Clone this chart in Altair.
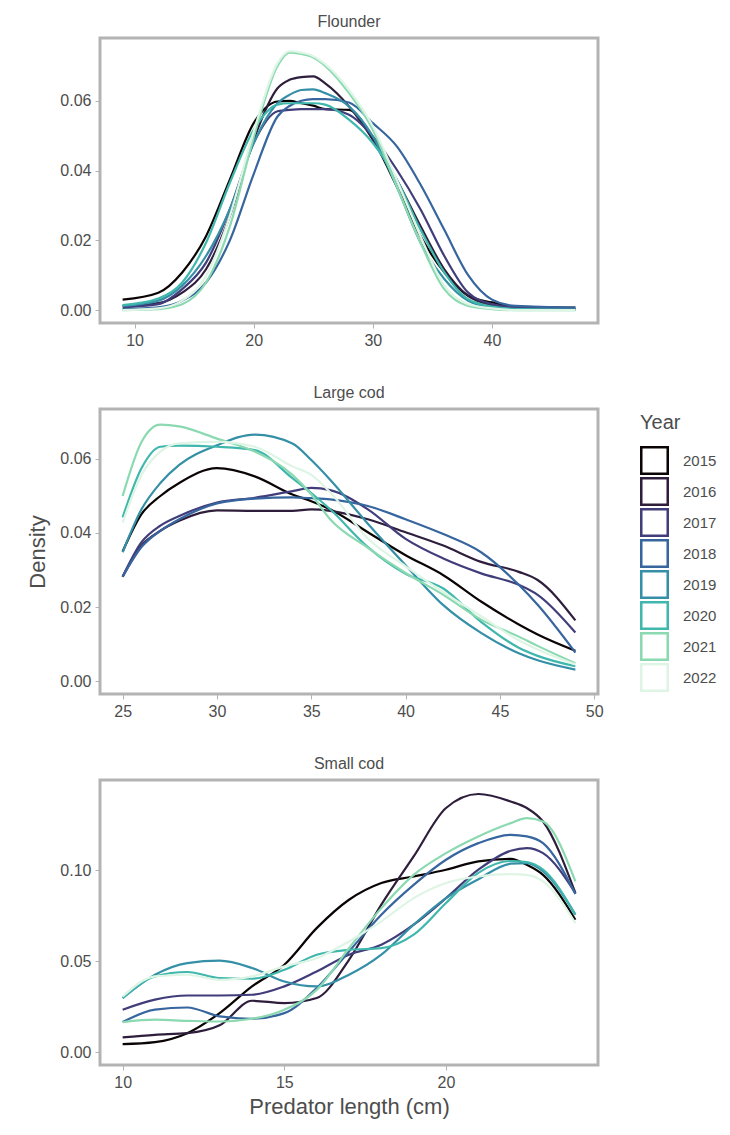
import altair as alt
import pandas as pd

YEARS = ["2015", "2016", "2017", "2018", "2019", "2020", "2021", "2022"]
COLORS = ["#0B0405", "#2E1E3C", "#413D7B", "#37659E", "#348FA7", "#40B7AD", "#8AD9B1", "#DEF5E5"]

FLOUNDER_X = [9, 12, 14, 16, 18, 20, 22, 23, 24, 25, 26, 28, 30, 32, 34, 36, 38, 40, 42, 47]
FLOUNDER = {
    "2015": [0.0030, 0.0050, 0.0108, 0.0212, 0.0374, 0.0536, 0.0598, 0.0600, 0.0593, 0.0586, 0.0576, 0.0574, 0.0489, 0.0355, 0.0212, 0.0108, 0.0041, 0.0022, 0.0010, 0.0007],
    "2016": [0.0012, 0.0020, 0.0050, 0.0117, 0.0270, 0.0489, 0.0636, 0.0660, 0.0668, 0.0670, 0.0650, 0.0584, 0.0489, 0.0374, 0.0241, 0.0117, 0.0041, 0.0014, 0.0005, 0.0003],
    "2017": [0.0008, 0.0017, 0.0060, 0.0136, 0.0289, 0.0479, 0.0570, 0.0574, 0.0576, 0.0576, 0.0576, 0.0560, 0.0498, 0.0403, 0.0289, 0.0155, 0.0050, 0.0017, 0.0007, 0.0003],
    "2018": [0.0003, 0.0008, 0.0027, 0.0079, 0.0200, 0.0390, 0.0555, 0.0585, 0.0600, 0.0605, 0.0605, 0.0595, 0.0536, 0.0470, 0.0360, 0.0230, 0.0100, 0.0030, 0.0012, 0.0007],
    "2019": [0.0012, 0.0027, 0.0070, 0.0155, 0.0289, 0.0479, 0.0593, 0.0617, 0.0631, 0.0633, 0.0622, 0.0584, 0.0498, 0.0355, 0.0194, 0.0089, 0.0027, 0.0008, 0.0003, 0.0001],
    "2020": [0.0014, 0.0033, 0.0079, 0.0193, 0.0365, 0.0517, 0.0589, 0.0593, 0.0593, 0.0593, 0.0589, 0.0546, 0.0479, 0.0374, 0.0231, 0.0108, 0.0031, 0.0010, 0.0003, 0.0001],
    "2021": [0.0000, 0.0003, 0.0017, 0.0079, 0.0240, 0.0495, 0.0700, 0.0738, 0.0734, 0.0724, 0.0700, 0.0622, 0.0517, 0.0355, 0.0193, 0.0060, 0.0012, 0.0003, 0.0000, 0.0000],
    "2022": [0.0000, 0.0005, 0.0027, 0.0098, 0.0270, 0.0512, 0.0708, 0.0742, 0.0738, 0.0728, 0.0705, 0.0631, 0.0527, 0.0374, 0.0212, 0.0070, 0.0017, 0.0005, 0.0000, 0.0000],
}

LARGE_X = [25, 26, 27, 28, 30, 32, 34, 35, 36, 38, 40, 42, 44, 46, 47, 49]
LARGE = {
    "2015": [0.0350, 0.0451, 0.0500, 0.0535, 0.0575, 0.0553, 0.0504, 0.0486, 0.0464, 0.0402, 0.0340, 0.0286, 0.0215, 0.0153, 0.0126, 0.0082],
    "2016": [0.0282, 0.0366, 0.0406, 0.0433, 0.0461, 0.0460, 0.0460, 0.0464, 0.0460, 0.0437, 0.0402, 0.0366, 0.0322, 0.0295, 0.0273, 0.0164],
    "2017": [0.0282, 0.0375, 0.0420, 0.0446, 0.0482, 0.0495, 0.0513, 0.0522, 0.0516, 0.0464, 0.0384, 0.0331, 0.0291, 0.0260, 0.0233, 0.0131],
    "2018": [0.0282, 0.0362, 0.0406, 0.0437, 0.0480, 0.0493, 0.0496, 0.0494, 0.0491, 0.0473, 0.0437, 0.0397, 0.0348, 0.0260, 0.0206, 0.0077],
    "2019": [0.0348, 0.0464, 0.0535, 0.0584, 0.0637, 0.0666, 0.0642, 0.0597, 0.0544, 0.0425, 0.0313, 0.0205, 0.0130, 0.0075, 0.0056, 0.0031],
    "2020": [0.0442, 0.0575, 0.0633, 0.0636, 0.0633, 0.0624, 0.0548, 0.0508, 0.0464, 0.0362, 0.0290, 0.0250, 0.0160, 0.0090, 0.0068, 0.0040],
    "2021": [0.0500, 0.0646, 0.0693, 0.0688, 0.0655, 0.0620, 0.0557, 0.0504, 0.0437, 0.0360, 0.0292, 0.0233, 0.0166, 0.0120, 0.0095, 0.0048],
    "2022": [0.0428, 0.0557, 0.0620, 0.0642, 0.0646, 0.0633, 0.0580, 0.0557, 0.0510, 0.0385, 0.0310, 0.0240, 0.0175, 0.0110, 0.0085, 0.0045],
}

SMALL_X = [10, 11, 12, 13, 14, 15, 16, 17, 18, 19, 20, 21, 22, 22.5, 23, 24]
SMALL = {
    "2015": [0.0044, 0.0055, 0.0104, 0.0214, 0.0361, 0.0480, 0.0681, 0.0837, 0.0929, 0.0965, 0.1002, 0.1048, 0.1062, 0.1029, 0.0974, 0.0727],
    "2016": [0.0081, 0.0095, 0.0104, 0.0147, 0.0282, 0.0269, 0.0297, 0.0507, 0.0810, 0.1075, 0.1341, 0.1418, 0.1377, 0.1341, 0.1267, 0.0874],
    "2017": [0.0233, 0.0288, 0.0311, 0.0311, 0.0315, 0.0361, 0.0443, 0.0535, 0.0590, 0.0700, 0.0846, 0.1002, 0.1106, 0.1121, 0.1093, 0.0874],
    "2018": [0.0165, 0.0233, 0.0245, 0.0196, 0.0183, 0.0214, 0.0352, 0.0553, 0.0755, 0.0919, 0.1057, 0.1148, 0.1194, 0.1185, 0.1148, 0.0868],
    "2019": [0.0297, 0.0425, 0.0489, 0.0502, 0.0462, 0.0388, 0.0361, 0.0425, 0.0535, 0.0700, 0.0846, 0.0950, 0.1035, 0.1038, 0.0993, 0.0755],
    "2020": [0.0297, 0.0416, 0.0440, 0.0407, 0.0403, 0.0452, 0.0535, 0.0562, 0.0571, 0.0645, 0.0819, 0.0985, 0.1050, 0.1044, 0.1002, 0.0755],
    "2021": [0.0165, 0.0178, 0.0172, 0.0168, 0.0183, 0.0233, 0.0342, 0.0571, 0.0791, 0.0974, 0.1093, 0.1185, 0.1258, 0.1286, 0.1267, 0.0938],
    "2022": [0.0306, 0.0416, 0.0425, 0.0397, 0.0416, 0.0471, 0.0516, 0.0608, 0.0718, 0.0846, 0.0929, 0.0965, 0.0978, 0.0974, 0.0938, 0.0709],
}

FONT = "Liberation Sans, Arial, sans-serif"
TXT = "#4D4D4D"
GRAY = "#B3B3B3"

LEGEND = alt.Legend(
    title="Year", titleFontSize=20, titleColor=TXT, titleFont=FONT,
    titleFontWeight="normal", labelFontSize=15, labelColor=TXT, labelFont=FONT,
    symbolType="square", symbolSize=700, symbolFillColor="white",
    symbolStrokeWidth=2.5, rowPadding=0, clipHeight=31, labelOffset=14,
    orient="none", legendX=540, legendY=375, titlePadding=12,
)


def long_df(xs, series):
    rows = []
    for yr in YEARS:
        for i, (x, v) in enumerate(zip(xs, series[yr])):
            rows.append({"x": x, "density": v, "Year": yr, "order": i})
    return pd.DataFrame(rows)


def panel(title, xs, series, xdom, xvals, ydom, yvals, show_ytitle, show_xtitle):
    df = long_df(xs, series)
    color = alt.Color("Year:N", scale=alt.Scale(domain=YEARS, range=COLORS), legend=LEGEND)
    return alt.Chart(df, title=alt.TitleParams(
        title, fontSize=16, color=TXT, font=FONT, fontWeight="normal",
        anchor="middle", offset=8)).mark_line(
        strokeWidth=2.2, interpolate="monotone").encode(
        x=alt.X("x:Q", scale=alt.Scale(domain=xdom, nice=False, zero=False),
                axis=alt.Axis(values=xvals, format="d", grid=False, domain=False,
                              tickColor=GRAY, tickSize=5, tickWidth=1,
                              labelFontSize=16, labelColor=TXT, labelFont=FONT,
                              labelPadding=4,
                              title="Predator length (cm)" if show_xtitle else None,
                              titleFontSize=22, titleColor=TXT, titleFont=FONT,
                              titleFontWeight="normal", titlePadding=6)),
        y=alt.Y("density:Q", scale=alt.Scale(domain=ydom, nice=False, zero=False),
                axis=alt.Axis(values=yvals, format=".2f", grid=False, domain=False,
                              tickColor=GRAY, tickSize=5, tickWidth=1,
                              labelFontSize=16, labelColor=TXT, labelFont=FONT,
                              labelPadding=4,
                              title="Density", titleFontSize=22, titleColor=TXT,
                              titleFont=FONT, titleFontWeight="normal",
                              titlePadding=10,
                              titleOpacity=1 if show_ytitle else 0)),
        color=color,
        order="order:Q",
    ).properties(width=498, height=285,
                 view=alt.ViewBackground(stroke="#B3B3B3", strokeWidth=3, fill="white"))


p1 = panel("Flounder", FLOUNDER_X, FLOUNDER, [7.1, 48.9], [10, 20, 30, 40],
           [-0.0037, 0.078], [0, 0.02, 0.04, 0.06], False, False)
p2 = panel("Large cod", LARGE_X, LARGE, [23.8, 50.2], [25, 30, 35, 40, 45, 50],
           [-0.0035, 0.0735], [0, 0.02, 0.04, 0.06], True, False)
p3 = panel("Small cod", SMALL_X, SMALL, [9.3, 24.7], [10, 15, 20],
           [-0.0071, 0.1495], [0, 0.05, 0.10], False, True)

chart = alt.vconcat(p1, p2, p3, spacing=33).resolve_scale(color="shared").configure_view(
    stroke="#B3B3B3", strokeWidth=3
).configure(background="white", padding={"left": 25, "top": 12, "right": 5, "bottom": 5})

chart.save("out.html", embed_options={"renderer": "svg", "actions": False})
